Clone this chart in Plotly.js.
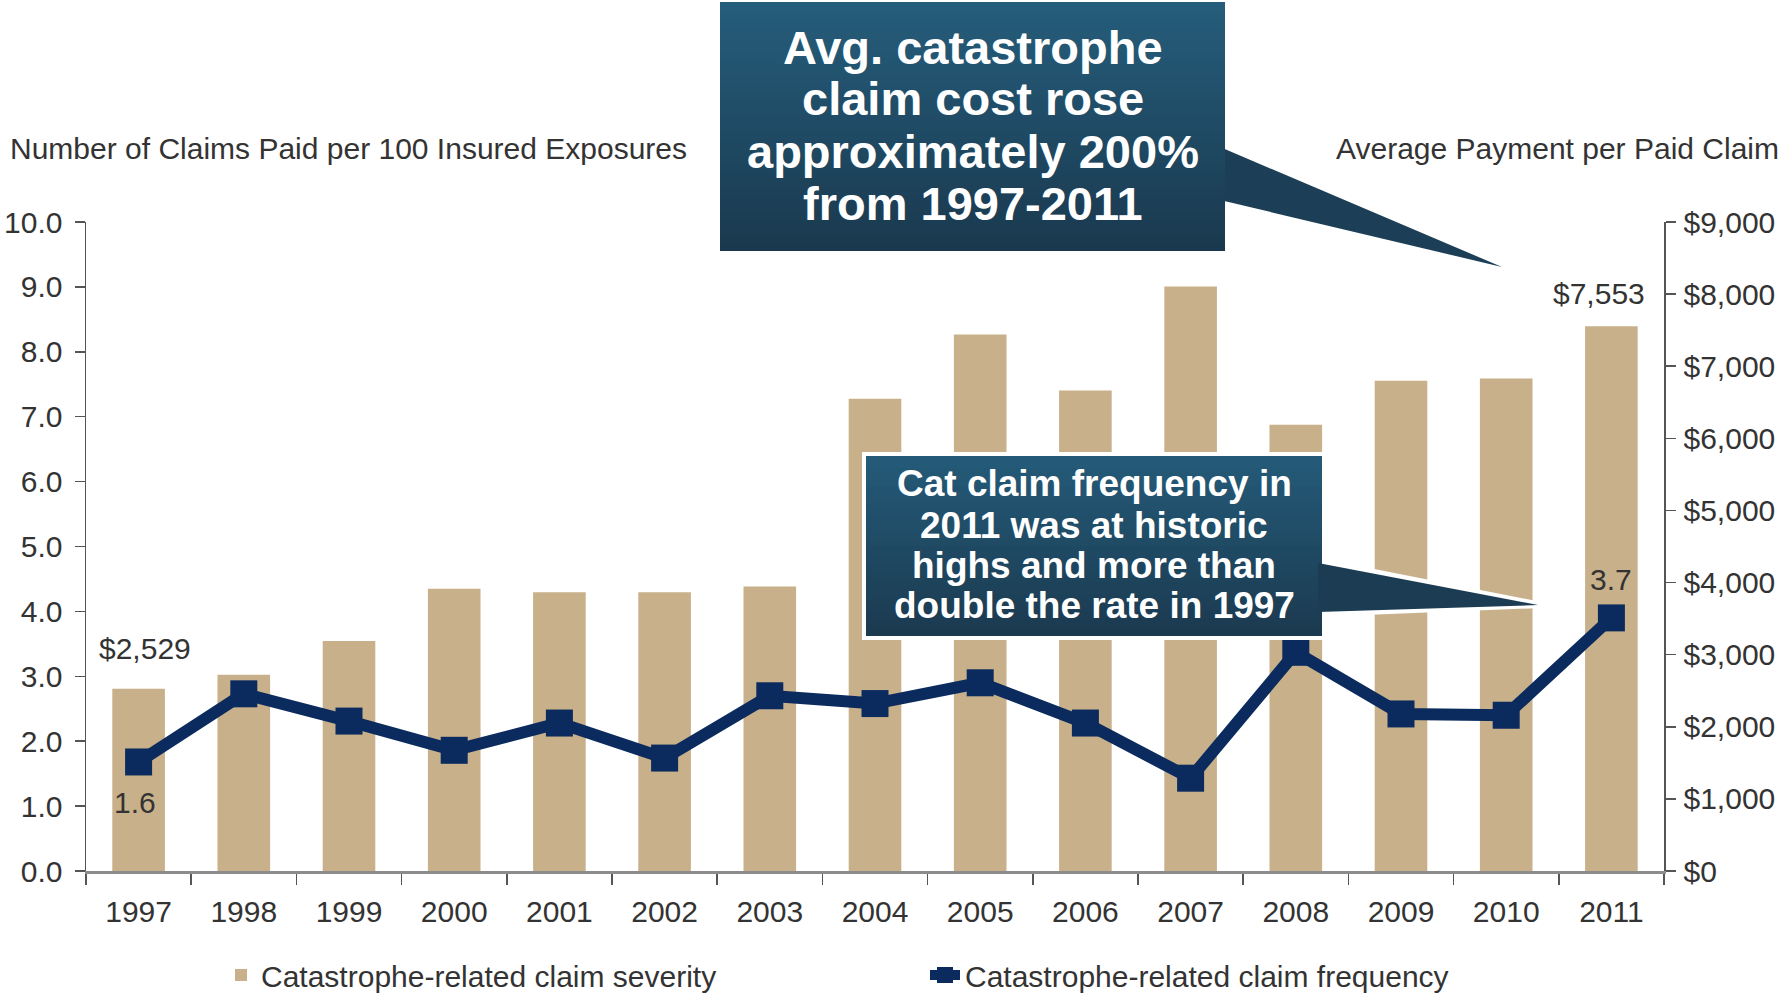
<!DOCTYPE html>
<html>
<head>
<meta charset="utf-8">
<script src="https://cdn.plot.ly/plotly-3.0.1.min.js"></script>
<style>html,body{margin:0;padding:0;background:#fff;}#chart{width:1787px;height:1001px;}</style>
</head>
<body>
<div id="chart"></div>
<script>
// ---- data ----
const years = ['1997','1998','1999','2000','2001','2002','2003','2004','2005','2006','2007','2008','2009','2010','2011'];
const severity = [2529, 2720, 3190, 3915, 3865, 3865, 3945, 6550, 7440, 6665, 8105, 6190, 6800, 6830, 7553];
const frequency = [1.68, 2.73, 2.31, 1.86, 2.28, 1.74, 2.70, 2.58, 2.90, 2.28, 1.43, 3.37, 2.42, 2.40, 3.90];
const seriesNames = ['Catastrophe-related claim severity', 'Catastrophe-related claim frequency'];
const axisTitles = ['Number of Claims Paid per 100 Insured Exposures', 'Average Payment per Paid Claim'];
const freqTicks = [0,1,2,3,4,5,6,7,8,9,10];
const freqTickText = ['0.0','1.0','2.0','3.0','4.0','5.0','6.0','7.0','8.0','9.0','10.0'];
const sevTicks = [0,1000,2000,3000,4000,5000,6000,7000,8000,9000];
const sevTickText = ['$0','$1,000','$2,000','$3,000','$4,000','$5,000','$6,000','$7,000','$8,000','$9,000'];
const callout1 = ['Avg. catastrophe', 'claim cost rose', 'approximately 200%', 'from 1997-2011'];
const callout2 = ['Cat claim frequency in', '2011 was at historic', 'highs and more than', 'double the rate in 1997'];
const pointLabels = {sevFirst: '$2,529', sevLast: '$7,553', freqFirst: '1.6', freqLast: '3.7'};

// ---- geometry helpers (pixel -> paper) ----
const W = 1787, Hh = 1001;
const M = {l: 86, r: 123, t: 222, b: 130, autoexpand: false};
const PW = W - M.l - M.r, PH = Hh - M.t - M.b;
const px = x => (x - M.l) / PW;
const py = y => (Hh - M.b - y) / PH;

const FONT = '"Liberation Sans", Arial, sans-serif';
const TXT = '#333333';
const FS = 30;

function mix(a, b, t) {
  return 'rgb(' + a.map((v, i) => Math.round(v + (b[i] - v) * t)).join(',') + ')';
}
function gradientBox(x0, y0, x1, y1, top, bottom, n) {
  const out = [];
  const h = (y1 - y0) / n;
  for (let i = 0; i < n; i++) {
    const ya = y0 + i * h, yb = Math.min(y1, y0 + (i + 1) * h + 1);
    out.push({type: 'rect', xref: 'paper', yref: 'paper', x0: px(x0), x1: px(x1), y0: py(yb), y1: py(ya),
      fillcolor: mix(top, bottom, i / (n - 1)), line: {width: 0}, layer: 'above'});
  }
  return out;
}
function tri(pts, fill, lineColor, lw) {
  const d = 'M' + pts.map(p => px(p[0]) + ',' + py(p[1])).join(' L') + ' Z';
  return {type: 'path', xref: 'paper', yref: 'paper', path: d, fillcolor: fill,
    line: {width: lw || 0, color: lineColor || fill}, layer: 'above'};
}

const shapes = [];
// callout 1
shapes.push(tri([[1220,147],[1502,267],[1220,200]], 'rgb(28,62,86)'));
shapes.push(...gradientBox(720, 2, 1225, 251, [37,93,123], [26,57,79], 40));
// callout 2 (white outlined)
shapes.push(tri([[1318,561],[1541,605],[1318,614]], '#ffffff', '#ffffff', 6));
shapes.push({type: 'rect', xref: 'paper', yref: 'paper', x0: px(862), x1: px(1326), y0: py(640), y1: py(452),
  fillcolor: '#ffffff', line: {width: 0}, layer: 'above'});
shapes.push(...gradientBox(866, 456, 1322, 636, [36,90,120], [27,58,80], 30));
shapes.push(tri([[1318,563],[1538,605],[1318,612]], 'rgb(28,60,84)'));

const annotations = [];
annotations.push({xref: 'paper', yref: 'paper', x: px(8), y: py(148), xanchor: 'left', yanchor: 'middle',
  text: axisTitles[0], showarrow: false, font: {family: FONT, size: FS, color: TXT}});
annotations.push({xref: 'paper', yref: 'paper', x: px(1781), y: py(148), xanchor: 'right', yanchor: 'middle',
  text: axisTitles[1], showarrow: false, font: {family: FONT, size: FS, color: TXT}});
// point labels (x given as category index)
const first = 0, last = years.length - 1;
annotations.push({xref: 'x', yref: 'y', x: first, y: severity[first], xanchor: 'center', yanchor: 'bottom',
  xshift: 6, yshift: 22, text: pointLabels.sevFirst, showarrow: false, font: {family: FONT, size: FS, color: TXT}});
annotations.push({xref: 'x', yref: 'y', x: last, y: severity[last], xanchor: 'center', yanchor: 'bottom',
  xshift: -12, yshift: 14, text: pointLabels.sevLast, showarrow: false, font: {family: FONT, size: FS, color: TXT}});
annotations.push({xref: 'x', yref: 'y2', x: first, y: frequency[first], xanchor: 'center', yanchor: 'top',
  xshift: -4, yshift: -22, text: pointLabels.freqFirst, showarrow: false, font: {family: FONT, size: FS, color: TXT}});
annotations.push({xref: 'x', yref: 'y2', x: last, y: frequency[last], xanchor: 'center', yanchor: 'bottom',
  xshift: 0, yshift: 20, text: pointLabels.freqLast, showarrow: false, font: {family: FONT, size: FS, color: TXT}});
// callout texts
const c1y = [48, 99, 152, 203];
callout1.forEach((t, i) => annotations.push({xref: 'paper', yref: 'paper', x: px(973), y: py(c1y[i]),
  xanchor: 'center', yanchor: 'middle', text: '<b>' + t + '</b>', showarrow: false,
  font: {family: FONT, size: 47, color: '#ffffff'}}));
const c2y = [484, 525, 565, 605];
callout2.forEach((t, i) => annotations.push({xref: 'paper', yref: 'paper', x: px(1094), y: py(c2y[i]),
  xanchor: 'center', yanchor: 'middle', text: '<b>' + t + '</b>', showarrow: false,
  font: {family: FONT, size: 37, color: '#ffffff'}}));

const NAVY = '#0B2B5E';
const traces = [
  {type: 'bar', x: years, y: severity, yaxis: 'y', name: seriesNames[0], legend: 'legend',
   marker: {color: '#C8B08A', line: {width: 0}}, width: 0.5, hoverinfo: 'skip'},
  {type: 'scatter', mode: 'lines+markers', x: years, y: frequency, yaxis: 'y2', name: seriesNames[1], legend: 'legend2',
   line: {color: NAVY, width: 12}, marker: {symbol: 'square', size: 27, color: NAVY}, hoverinfo: 'skip'}
];

const tickFont = {family: FONT, size: FS, color: TXT};
const layout = {
  width: W, height: Hh, margin: M,
  paper_bgcolor: '#ffffff', plot_bgcolor: '#ffffff',
  showlegend: true, hovermode: false,
  xaxis: {type: 'category', range: [-0.5, 14.5], showline: true, linecolor: '#8c8c8c', linewidth: 3,
    ticks: 'outside', tickson: 'boundaries', ticklen: 11, tickwidth: 1.5, tickcolor: '#555',
    tickfont: tickFont, showgrid: false, zeroline: false, ticklabelstandoff: 12, automargin: false},
  yaxis: {side: 'right', range: [0, 9000], tickmode: 'array', tickvals: sevTicks, ticktext: sevTickText,
    showline: true, linecolor: '#555', linewidth: 1.5, ticks: 'outside', ticklen: 10, tickwidth: 1.5,
    tickcolor: '#555', tickfont: tickFont, showgrid: false, zeroline: false, ticklabelstandoff: 2, automargin: false},
  yaxis2: {overlaying: 'y', side: 'left', range: [0, 10], tickmode: 'array', tickvals: freqTicks, ticktext: freqTickText,
    showline: true, linecolor: '#555', linewidth: 1.5, ticks: 'outside', ticklen: 10, tickwidth: 1.5,
    tickcolor: '#555', tickfont: tickFont, showgrid: false, zeroline: false, ticklabelstandoff: 6, automargin: false},
  legend: {x: px(221), y: py(975), xanchor: 'left', yanchor: 'middle', orientation: 'h',
    font: {family: FONT, size: FS, color: TXT}, bgcolor: 'rgba(0,0,0,0)'},
  legend2: {x: px(925), y: py(975), xanchor: 'left', yanchor: 'middle', orientation: 'h',
    font: {family: FONT, size: FS, color: TXT}, bgcolor: 'rgba(0,0,0,0)'},
  shapes: shapes,
  annotations: annotations
};

Plotly.newPlot('chart', traces, layout, {displayModeBar: false, staticPlot: true});
</script>
</body>
</html>
